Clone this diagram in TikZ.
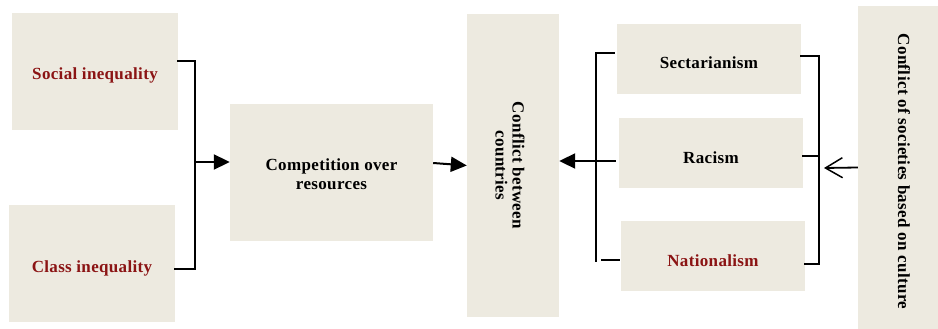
\documentclass[tikz,border=0pt]{standalone}
\usepackage{fontspec}
\setmainfont{Liberation Serif}[LetterSpace=2]
\usepackage{graphicx}
\usetikzlibrary{arrows.meta}
\definecolor{boxfill}{RGB}{237,234,224}
\definecolor{darkred}{RGB}{139,20,20}
\tikzset{
  box/.style={fill=boxfill, draw=none, inner sep=0pt, align=center,
    font=\fontsize{17}{20}\selectfont\bfseries},
  redtext/.style={text=darkred},
  link/.style={line width=2pt, line cap=rect},
  filledarrow/.style={line width=2pt, -{Triangle[length=16pt,width=15pt]}},
  openarrow/.style={line width=1.8pt, -{Straight Barb[length=17pt,width=20pt,line width=1.5pt]}}
}
\newcommand{\dn}[2]{\raisebox{-#1}[0pt][0pt]{#2}}
\begin{document}
\begin{tikzpicture}[x=1pt,y=-1pt]
\useasboundingbox (0,0) rectangle (938,329);
% boxes
\node[box, redtext, minimum width=166pt, minimum height=117pt] (social) at (95,71.5) {\dn{8pt}{Social inequality}};
\node[box, redtext, minimum width=166pt, minimum height=117pt] (class) at (92,263.5) {\dn{8.5pt}{Class inequality}};
\node[box, minimum width=203pt, minimum height=137pt] (comp) at (331.5,172.5)
  {\dn{8pt}{\begin{tabular}{@{}c@{}}Competition over\\[-1pt]resources\end{tabular}}};
\node[box, minimum width=92pt, minimum height=303pt] (cbc) at (513,165.5)
  {\rotatebox{-90}{\begin{tabular}{@{}c@{}}Conflict between\\[-3pt]countries\end{tabular}}\hspace*{10pt}};
\node[box, minimum width=184pt, minimum height=70pt] (sect) at (709,59) {\dn{10pt}{Sectarianism}};
\node[box, minimum width=184pt, minimum height=70pt] (rac) at (711,153) {\dn{10pt}{Racism}};
\node[box, redtext, minimum width=184pt, minimum height=70pt] (nat) at (713,256) {\dn{10pt}{Nationalism}};
\node[box, minimum width=80pt, minimum height=323pt] (cult) at (898,167.5)
  {\hspace*{12pt}\rotatebox{-90}{\hspace*{8pt}Conflict of societies based on culture}};
% junctions
\coordinate (jl) at (195,162);
\coordinate (jm) at (596,161);
\coordinate (jr) at (819,168);
% left bracket
\draw[link] ([yshift=10.5pt]social.east) -| (jl) |- ([yshift=-5.5pt]class.east);
\draw[filledarrow] (jl) -- (jl -| comp.west);
\draw[filledarrow] ([yshift=9.5pt]comp.east) -- (cbc.west);
% middle bracket
\draw[link] ([xshift=-3pt,yshift=6pt]sect.west) -| (jm) -- ++(0,100);
\draw[link] ([xshift=-2pt,yshift=-4pt]nat.west) -- ++(-17,0);
\draw[link] ([xshift=-4pt,yshift=-8pt]rac.west) -- (jm);
\draw[filledarrow] (jm) -- (jm -| cbc.east);
% right bracket
\draw[link] ([yshift=3pt]sect.east) -| (jr) |- ([yshift=-8pt]nat.east);
\draw[link] ([yshift=-3pt]rac.east) -| (jr);
\draw[openarrow] (cult.west) -- ([xshift=5pt]jr);
\end{tikzpicture}
\end{document}
